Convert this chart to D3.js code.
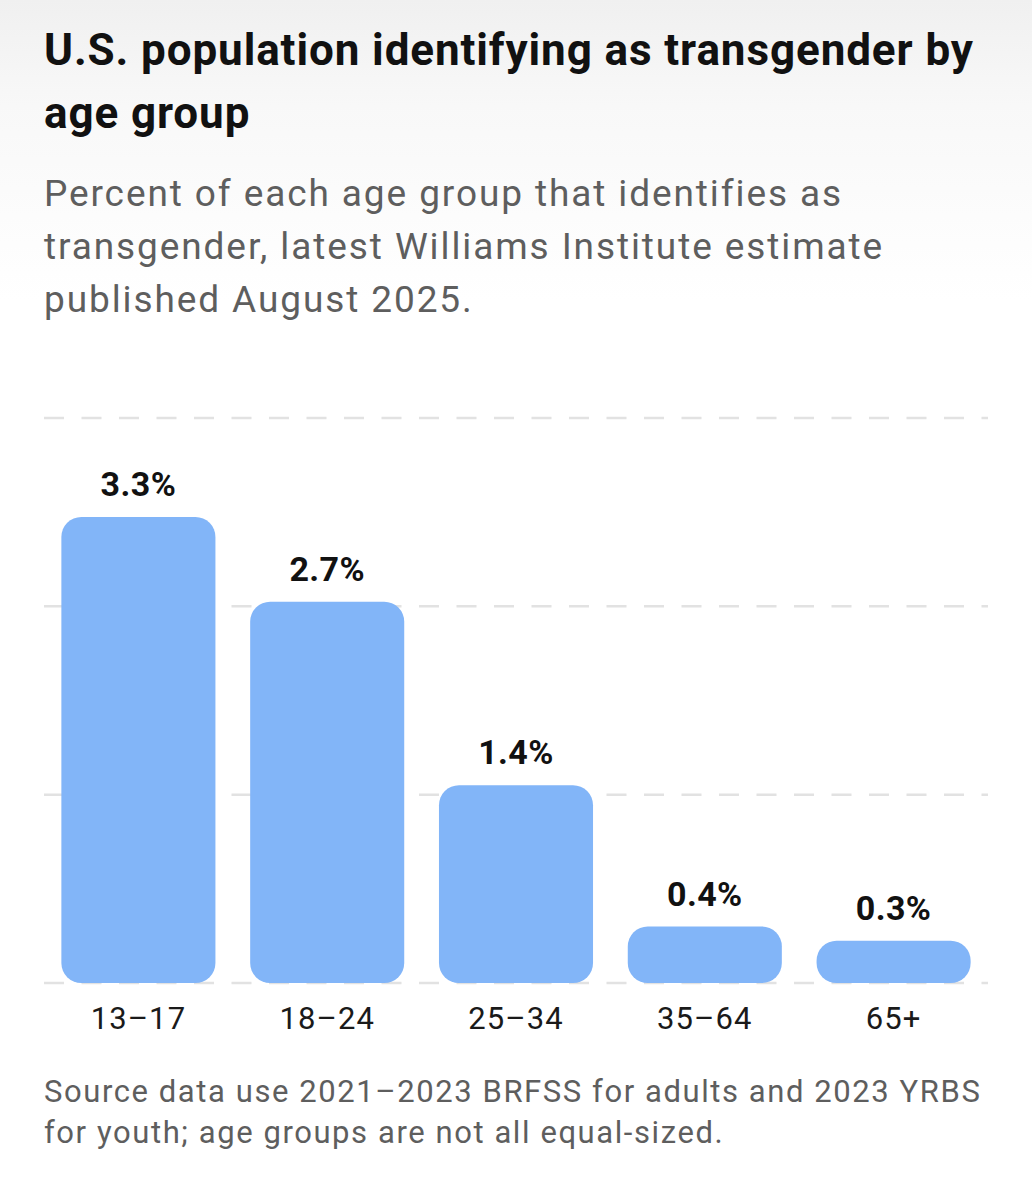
<!DOCTYPE html>
<html>
<head>
<meta charset="utf-8">
<script src="https://cdn.jsdelivr.net/npm/d3@7"></script>
<style>
  html, body { margin: 0; padding: 0; background: #ffffff; }
  svg { display: block; }
</style>
</head>
<body>
<script>
const categories = ["13–17", "18–24", "25–34", "35–64", "65+"];
const values = [3.3, 2.7, 1.4, 0.4, 0.3];
const valueLabels = ["3.3%", "2.7%", "1.4%", "0.4%", "0.3%"];
const gridTicks = [0, 4 / 3, 8 / 3, 4];
const titleLines = ["U.S. population identifying as transgender by", "age group"];
const subtitleLines = ["Percent of each age group that identifies as", "transgender, latest Williams Institute estimate", "published August 2025."];
const footerLines = ["Source data use 2021–2023 BRFSS for adults and 2023 YRBS", "for youth; age groups are not all equal-sized."];

const W = 1032, H = 1200;
const svg = d3.select("body").append("svg").attr("width", W).attr("height", H);

const defs = svg.append("defs");
const grad = defs.append("linearGradient").attr("id", "bg").attr("x1", 0).attr("y1", 0).attr("x2", 0).attr("y2", 1);
grad.append("stop").attr("offset", "0%").attr("stop-color", "#f0f0f0");
grad.append("stop").attr("offset", "35%").attr("stop-color", "#f8f8f8");
grad.append("stop").attr("offset", "100%").attr("stop-color", "#ffffff");
svg.append("rect").attr("width", W).attr("height", 300).attr("fill", "url(#bg)");

const font = "Roboto, 'Noto Sans', sans-serif";

svg.append("g").selectAll("text").data(titleLines).join("text")
  .attr("x", 44).attr("y", (d, i) => 65 + i * 63)
  .attr("font-family", font).attr("font-weight", 700).attr("font-size", 44)
  .attr("letter-spacing", 0.9)
  .attr("fill", "#111111").text(d => d);

svg.append("g").selectAll("text").data(subtitleLines).join("text")
  .attr("x", 44).attr("y", (d, i) => 206 + i * 53)
  .attr("font-family", font).attr("font-weight", 400).attr("font-size", 37)
  .attr("letter-spacing", 1.9)
  .attr("fill", "#5e5e5e").text(d => d);

const x = d3.scaleBand().domain(categories).range([44, 988]).paddingInner(0.184).paddingOuter(0.092);
const y = d3.scaleLinear().domain([0, 4]).range([983, 418]);

svg.append("g").selectAll("line").data(gridTicks).join("line")
  .attr("x1", 44).attr("x2", 988)
  .attr("y1", d => y(d)).attr("y2", d => y(d))
  .attr("stroke", "#e2e2e2").attr("stroke-width", 2.5)
  .attr("stroke-dasharray", "20 17.5");

svg.append("g").selectAll("rect").data(values).join("rect")
  .attr("x", (d, i) => x(categories[i]))
  .attr("y", d => y(d))
  .attr("width", x.bandwidth())
  .attr("height", d => y(0) - y(d))
  .attr("rx", 20).attr("ry", 20)
  .attr("fill", "#82b5f8");

svg.append("g").selectAll("text").data(values).join("text")
  .attr("x", (d, i) => x(categories[i]) + x.bandwidth() / 2)
  .attr("y", d => y(d) - 21)
  .attr("text-anchor", "middle")
  .attr("font-family", font).attr("font-weight", 700).attr("font-size", 34)
  .attr("letter-spacing", 0.4)
  .attr("fill", "#111111").text((d, i) => valueLabels[i]);

svg.append("g").selectAll("text").data(categories).join("text")
  .attr("x", d => x(d) + x.bandwidth() / 2)
  .attr("y", 1029)
  .attr("text-anchor", "middle")
  .attr("font-family", font).attr("font-weight", 400).attr("font-size", 31)
  .attr("letter-spacing", 1.1)
  .attr("fill", "#1a1a1a").text(d => d);

svg.append("g").selectAll("text").data(footerLines).join("text")
  .attr("x", 44).attr("y", (d, i) => 1102 + i * 41)
  .attr("font-family", font).attr("font-weight", 400).attr("font-size", 31)
  .attr("letter-spacing", 1.58)
  .attr("fill", "#5e5e5e").text(d => d);
</script>
</body>
</html>
